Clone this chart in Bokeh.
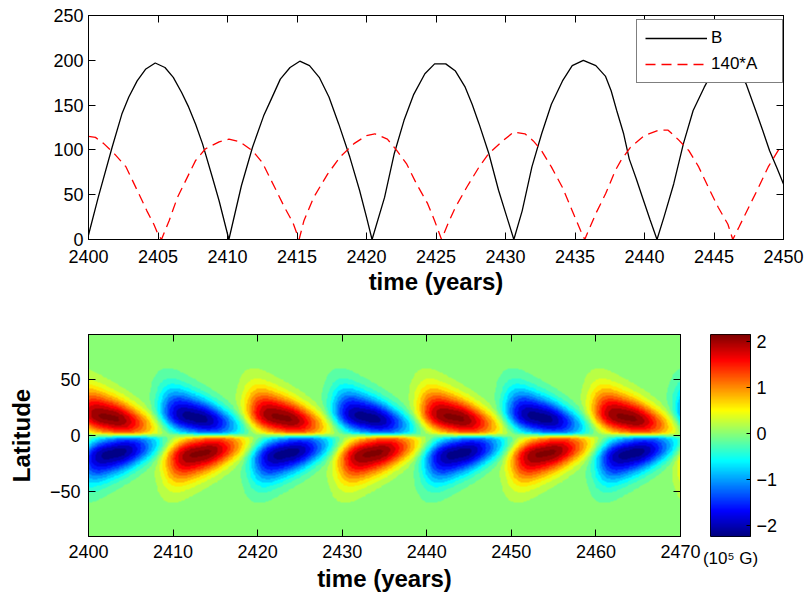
import numpy as np
from bokeh.plotting import figure
from bokeh.models import Range1d, LinearAxis, FixedTicker, LinearColorMapper
from bokeh.layouts import column, row
from bokeh.embed import file_html
from bokeh.resources import INLINE

FONT = "Liberation Sans"

# ---------------- top panel data ----------------
b_time = [2400.0, 2400.7, 2401.7, 2402.4, 2402.9, 2403.5, 2404.1, 2404.8, 2405.5, 2406.1,
          2406.7, 2407.2, 2407.7, 2408.2, 2408.9, 2409.4, 2410.1, 2411.0, 2411.8, 2412.6,
          2413.1, 2413.8, 2414.5, 2415.2, 2415.9, 2416.6, 2417.3, 2418.0, 2418.8, 2419.5,
          2420.0, 2420.4, 2421.3, 2422.0, 2422.7, 2423.4, 2424.2, 2424.9, 2425.7, 2426.4,
          2427.1, 2427.6, 2428.1, 2428.8, 2429.5, 2430.1, 2430.6, 2431.2, 2431.9, 2432.6,
          2433.3, 2434.1, 2434.8, 2435.6, 2436.5, 2437.2, 2437.6, 2438.0, 2438.5, 2438.9,
          2439.4, 2439.9, 2440.4, 2440.9, 2441.4, 2442.1, 2442.8, 2443.5, 2444.3, 2445.0,
          2445.7, 2446.5, 2447.3, 2448.0, 2448.5, 2449.0, 2449.5, 2450.0]
b_value = [5, 47, 103, 140, 159, 177, 190, 197, 192, 181,
           164, 148, 129, 107, 70, 43, 0, 60, 103, 138,
           155, 179, 192, 199, 194, 181, 159, 129, 92, 55,
           25, 0, 47, 96, 133, 162, 185, 196, 196, 188,
           170, 151, 129, 96, 55, 25, 0, 32, 81, 118,
           151, 177, 194, 200, 194, 182, 166, 144, 118, 90,
           68, 45, 22, 0, 25, 62, 107, 144, 170, 190,
           198, 192, 174, 144, 122, 99, 81, 62]

a_time = [2400.0, 2400.5, 2401.1, 2401.9, 2402.7, 2403.5, 2404.2, 2404.7, 2405.0, 2405.25,
          2405.8, 2406.4, 2407.0, 2407.7, 2408.4, 2409.4, 2410.1, 2410.9, 2411.8, 2412.5,
          2413.4, 2414.1, 2414.7, 2415.15, 2415.5, 2416.2, 2417.2, 2418.1, 2419.1, 2420.0,
          2420.6, 2421.5, 2422.2, 2422.9, 2423.6, 2424.4, 2424.9, 2425.4, 2425.9, 2426.4,
          2427.2, 2428.1, 2428.8, 2429.8, 2430.6, 2431.4, 2432.0, 2432.6, 2433.3, 2434.1,
          2434.8, 2435.4, 2435.7, 2436.5, 2437.2, 2437.9, 2438.3, 2439.0, 2440.0, 2441.0,
          2441.7, 2442.4, 2443.2, 2443.9, 2444.6, 2445.3, 2446.0, 2446.35, 2446.8, 2447.5,
          2448.2, 2448.9, 2449.6, 2450.0]
a_value = [115, 114, 107, 95, 81, 55, 32, 17, 6, 0,
           21, 47, 66, 88, 101, 109, 112, 109, 99, 86,
           58, 36, 19, 0, 21, 47, 73, 92, 107, 116,
           118, 112, 99, 84, 62, 40, 21, 0, 19, 36,
           58, 81, 96, 110, 120, 118, 110, 99, 81, 58,
           32, 10, 0, 29, 51, 77, 88, 103, 116, 122,
           122, 112, 99, 81, 58, 36, 17, 0, 14, 36,
           58, 81, 99, 105]

top_xticks = [2400, 2405, 2410, 2415, 2420, 2425, 2430, 2435, 2440, 2445, 2450]
top_yticks = [0, 50, 100, 150, 200, 250]

# ---------------- butterfly diagram (lobes) ----------------
north_lobe_time = [2392.8, 2403.0, 2413.2, 2423.4, 2433.6, 2443.8, 2454.0, 2464.2, 2474.4]
north_lobe_amp = [-2.2, 2.15, -2.2, 2.15, -2.2, 2.15, -2.2, 2.15, -2.2]
south_lobe_time = [2393.4, 2403.6, 2413.8, 2424.0, 2434.2, 2444.4, 2454.6, 2464.8, 2475.0]
south_lobe_amp = [2.15, -2.2, 2.15, -2.2, 2.15, -2.2, 2.15, -2.2, 2.15]
lobe_core_lat = 15.0      # degrees at lobe centre time
lobe_drift = 1.4          # equatorward drift, degrees per year

bottom_xticks = [2400, 2410, 2420, 2430, 2440, 2450, 2460, 2470]
bottom_yticks = [-50, 0, 50]
cbar_ticks = [-2, -1, 0, 1, 2]
clim_low, clim_high = -2.24, 2.15
band_step = 0.2


def lobe(T, LAT, tc, amp):
    dt = T - tc
    lc = np.maximum(lobe_core_lat - lobe_drift * dt, 4.0)
    s_up = np.maximum(18.5 - 1.6 * dt, 6.0)
    s_dn = 16.0
    d = LAT - lc
    prof = np.where(d > 0, np.exp(-(d / s_up) ** 2), np.exp(-(d / s_dn) ** 2))
    prof = prof * np.tanh(np.clip(LAT, 0, None) / 2.0)
    env = np.where(dt < 0, np.exp(-(dt / 4.6) ** 4), np.exp(-(dt / 4.3) ** 2))
    return amp * env * prof


nx, ny = 700, 360
tc_grid = 2400 + (np.arange(nx) + 0.5) * 70.0 / nx
lat_grid = -90 + (np.arange(ny) + 0.5) * 180.0 / ny
T, LAT = np.meshgrid(tc_grid, lat_grid)
field = np.zeros_like(T)
for tc, amp in zip(north_lobe_time, north_lobe_amp):
    field += lobe(T, LAT, tc, amp)
for tc, amp in zip(south_lobe_time, south_lobe_amp):
    field += lobe(T, -LAT, tc, amp)
field_banded = np.round(field / band_step) * band_step


def jet(n):
    cols = []
    for i in range(n):
        x = i / (n - 1)
        r = min(max(1.5 - abs(4 * x - 3), 0), 1)
        g = min(max(1.5 - abs(4 * x - 2), 0), 1)
        b = min(max(1.5 - abs(4 * x - 1), 0), 1)
        cols.append("#%02x%02x%02x" % (int(r * 255), int(g * 255), int(b * 255)))
    return cols


mapper = LinearColorMapper(palette=jet(256), low=clim_low, high=clim_high)


def style_axis(ax, labels=True, tick=7, size="18px", standoff=8):
    ax.major_tick_in = tick
    ax.major_tick_out = 0
    ax.minor_tick_line_color = None
    ax.axis_line_color = "black"
    ax.major_tick_line_color = "black"
    ax.major_label_text_font = FONT
    ax.major_label_text_color = "black"
    ax.major_label_text_font_size = size
    ax.major_label_standoff = standoff
    ax.axis_label_text_font = FONT
    ax.axis_label_text_font_style = "bold"
    ax.axis_label_text_font_size = "24px"
    ax.axis_label_text_color = "black"
    if not labels:
        # tick marks only: labels are not drawn at all
        ax.major_label_text_color = None
        ax.major_label_text_font_size = "0px"
        ax.major_label_standoff = 0


# ---------------- top figure ----------------
p1 = figure(width=809, height=300, x_range=Range1d(2400, 2450), y_range=Range1d(0, 250),
            output_backend="svg", toolbar_location=None,
            min_border_left=88, min_border_right=26, min_border_top=15, min_border_bottom=61)
p1.xgrid.visible = False
p1.ygrid.visible = False
p1.outline_line_color = "black"
p1.background_fill_color = "white"

p1.line(b_time, b_value, color="black", line_width=1.3, legend_label="B")
p1.line(a_time, a_value, color="red", line_width=1.3, line_dash="10 6", legend_label="140*A")

xb = p1.below[0]
xb.ticker = FixedTicker(ticks=top_xticks)
style_axis(xb, standoff=10)
xb.axis_label = "time (years)"
xb.axis_label_standoff = 2
yl = p1.left[0]
yl.ticker = FixedTicker(ticks=top_yticks)
style_axis(yl, standoff=5)

ax_top = LinearAxis(ticker=FixedTicker(ticks=top_xticks))
style_axis(ax_top, labels=False)
p1.add_layout(ax_top, "above")
ax_right = LinearAxis(ticker=FixedTicker(ticks=top_yticks))
style_axis(ax_right, labels=False)
p1.add_layout(ax_right, "right")

lg = p1.legend[0]
lg.location = (548, 156)
lg.label_text_font = FONT
lg.label_text_font_size = "17px"
lg.label_text_color = "black"
lg.border_line_color = "black"
lg.border_line_width = 1
lg.background_fill_alpha = 1.0
lg.padding = 8
lg.spacing = 6
lg.glyph_width = 62
lg.glyph_height = 20
lg.label_height = 20
lg.label_width = 63
lg.label_standoff = 4
lg.margin = 0

# ---------------- bottom figure ----------------
p2 = figure(width=702, height=299, x_range=Range1d(2400, 2470), y_range=Range1d(-90, 90),
            output_backend="svg", toolbar_location=None,
            min_border_left=88, min_border_right=22, min_border_top=34, min_border_bottom=63)
p2.xgrid.visible = False
p2.ygrid.visible = False
p2.outline_line_color = "black"
p2.image(image=[field_banded], x=2400, y=-90, dw=70, dh=180, color_mapper=mapper)

xb2 = p2.below[0]
xb2.ticker = FixedTicker(ticks=bottom_xticks)
style_axis(xb2, standoff=8)
xb2.axis_label = "time (years)"
xb2.axis_label_standoff = 4
yl2 = p2.left[0]
yl2.ticker = FixedTicker(ticks=bottom_yticks)
style_axis(yl2, standoff=8)
yl2.major_label_overrides = {-50: "\u221250", 0: "0", 50: "50"}
yl2.axis_label = "Latitude"
yl2.axis_label_standoff = 12

ax_top2 = LinearAxis(ticker=FixedTicker(ticks=bottom_xticks))
style_axis(ax_top2, labels=False)
p2.add_layout(ax_top2, "above")
ax_right2 = LinearAxis(ticker=FixedTicker(ticks=bottom_yticks))
style_axis(ax_right2, labels=False)
p2.add_layout(ax_right2, "right")

# ---------------- colour bar ----------------
p3 = figure(width=107, height=299, x_range=Range1d(0, 1), y_range=Range1d(clim_low, clim_high),
            output_backend="svg", toolbar_location=None,
            x_axis_location=None, y_axis_location="right",
            min_border_left=8, min_border_right=59, min_border_top=34, min_border_bottom=63)
p3.xgrid.visible = False
p3.ygrid.visible = False
p3.outline_line_color = "black"
grad = np.linspace(clim_low, clim_high, 256).reshape(256, 1)
p3.image(image=[grad], x=0, y=clim_low, dw=1, dh=clim_high - clim_low, color_mapper=mapper)
yr3 = p3.right[0]
yr3.ticker = FixedTicker(ticks=cbar_ticks)
style_axis(yr3, tick=4, standoff=6)
yr3.major_label_overrides = {-2: "\u22122", -1: "\u22121", 0: "0", 1: "1", 2: "2"}

unit_axis = LinearAxis(ticker=FixedTicker(ticks=[]))
unit_axis.axis_line_color = None
unit_axis.major_tick_line_color = None
unit_axis.minor_tick_line_color = None
unit_axis.major_label_standoff = 0
unit_axis.axis_label = "(10\u2075 G)"
unit_axis.axis_label_text_font = FONT
unit_axis.axis_label_text_font_style = "normal"
unit_axis.axis_label_text_font_size = "17px"
unit_axis.axis_label_text_color = "black"
unit_axis.axis_label_standoff = 12
p3.add_layout(unit_axis, "below")

layout = column(p1, row(p2, p3))
open("out.html", "w").write(file_html(layout, INLINE))
